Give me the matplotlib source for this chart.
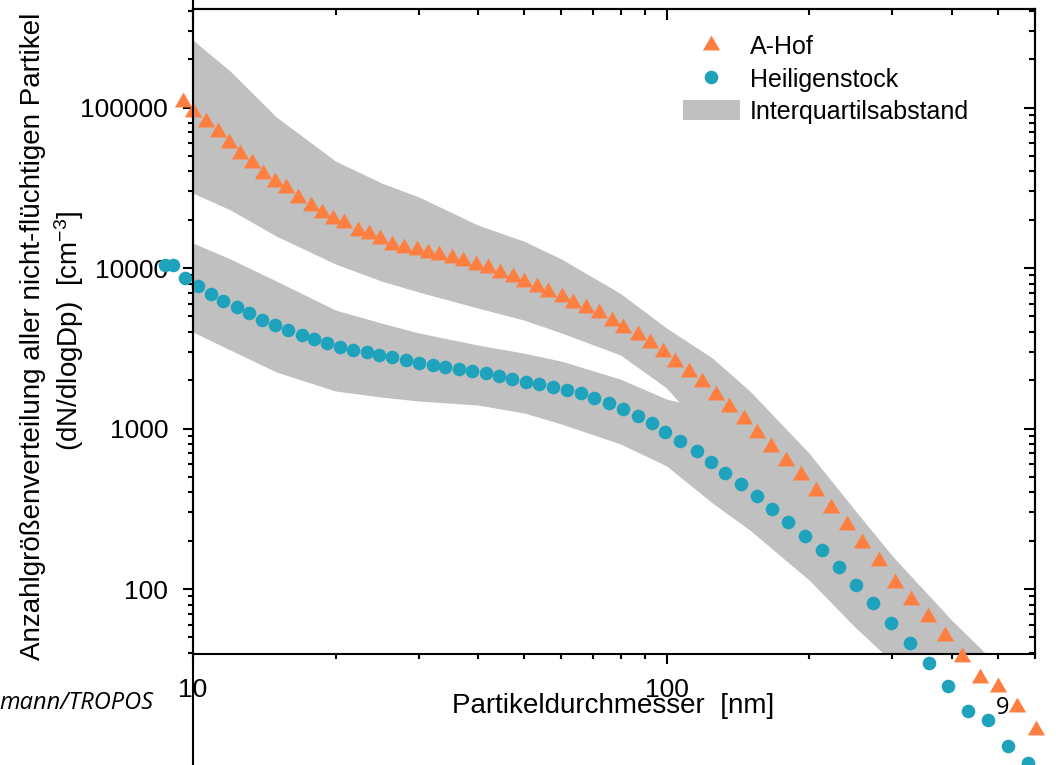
import matplotlib
matplotlib.use("Agg")
import matplotlib.pyplot as plt
from matplotlib.lines import Line2D
from matplotlib.patches import Patch
from matplotlib.ticker import FuncFormatter, NullFormatter

plt.rcParams['font.family'] = ['Liberation Sans', 'DejaVu Sans']
plt.rcParams['font.size'] = 18
plt.rcParams['mathtext.default'] = 'regular'

# particle diameter [nm] and number size distribution dN/dlogDp [cm^-3]
ahof_d = [9.53, 10.0, 10.65, 11.29, 11.91, 12.56, 13.32, 14.05, 14.89, 15.71,
          16.65, 17.74, 18.72, 19.74, 20.83, 22.29, 23.51, 24.80, 26.29, 27.87,
          29.70, 31.31, 33.04, 35.19, 37.12, 39.54, 41.92, 44.44, 47.32, 49.92,
          53.18, 56.10, 60.04, 63.34, 67.47, 71.87, 76.56, 80.76, 86.86, 92.07,
          98.08, 104.4, 111.3, 119.1, 127.5, 135.8, 145.4, 155.6, 166.5, 179.1,
          192.7, 207.3, 222.9, 240.9, 259.1, 281.5, 304.1, 328.8, 357.2, 387.9,
          421.3, 459.7, 501.7, 550.3, 603.4]
ahof_n = [108200, 93750, 81250, 70400, 60100, 51300, 45100, 38500, 34400, 31500,
          27300, 24300, 22000, 20200, 19100, 17000, 16300, 15200, 13900, 13300,
          12900, 12400, 12000, 11500, 11050, 10440, 10000, 9300, 8790, 8180,
          7620, 7080, 6600, 6050, 5630, 5250, 4670, 4230, 3830, 3410,
          3000, 2600, 2250, 1950, 1617, 1361, 1146, 938, 767, 627,
          513, 408, 320, 250.5, 193.5, 149.4, 109, 85.4, 66.9, 51.0,
          37.7, 27.9, 24.5, 18.4, 13.2]

heil_d = [8.73, 9.07, 9.62, 10.24, 10.91, 11.57, 12.38, 13.13, 13.98, 14.89,
          15.86, 16.98, 18.0, 19.17, 20.42, 21.76, 23.28, 24.68, 26.29, 28.14,
          29.99, 32.09, 34.01, 36.41, 38.79, 41.51, 44.21, 47.10, 50.41, 53.70,
          57.47, 61.52, 65.86, 70.15, 75.43, 80.76, 86.86, 92.98, 99.5, 107.0,
          115.7, 124.4, 133.2, 143.9, 154.9, 167.4, 180.9, 196.5, 213.4, 231.7,
          251.7, 273.4, 298.4, 327.2, 358.8, 393.6, 433.6, 477.8, 526.6, 580.2]
heil_n = [10440, 10440, 8660, 7720, 6890, 6230, 5710, 5250, 4740, 4420,
          4110, 3830, 3610, 3410, 3220, 3080, 3000, 2870, 2790, 2670,
          2560, 2490, 2420, 2350, 2280, 2220, 2120, 2030, 1950, 1890,
          1810, 1740, 1660, 1550, 1440, 1320, 1200, 1080, 951, 836,
          724, 619, 528, 451, 379.6, 315, 261.5, 213.9, 175, 137,
          105.9, 81.8, 61.4, 46.1, 34.6, 24.9, 17.4, 15.3, 10.5, 8.24]

# interquartile ranges
band_d = [10, 12, 15, 20, 25, 30, 40, 50, 60, 80, 100, 125, 150, 200, 250, 300, 400, 500, 600]
ahof_q1 = [29300, 23000, 15800, 10590, 8300, 7080, 5630, 4740, 3940, 2870,
           1790, 848, 551, 233, 113.8, 64.1, 23.5, 11.5, 6.45]
ahof_q3 = [263000, 168000, 87300, 46400, 33900, 27700, 18500, 14700, 11380, 6930,
           4230, 2750, 1713, 703, 310, 160.6, 64.1, 33.6, 20.4]
heil_q1 = [3990, 3080, 2250, 1713, 1571, 1484, 1401, 1250, 1067, 801,
           585, 343.6, 233, 113.8, 58, 35.1, 15.3, 7.45, 4.2]
heil_q3 = [14300, 11380, 8300, 5470, 4540, 3940, 3310, 2950, 2630, 2030,
           1527, 1304, 848, 358, 151.6, 85.4, 36.1, 15.3, 8.6]

orange = '#ff7f41'
teal = '#1fa2bc'
grey = '#c0c0c0'

W, H = 1056, 765
fig = plt.figure(figsize=(W / 100, H / 100), dpi=100)
x0 = 193 / W
ax = fig.add_axes([x0, 1 - 654 / H, (1035 - 193) / W, (654 - 9) / H])

ax.fill_between(band_d, ahof_q1, ahof_q3, color=grey, lw=0, zorder=1)
ax.fill_between(band_d, heil_q1, heil_q3, color=grey, lw=0, zorder=1)

tri = [(-1, -0.577), (1, -0.577), (0, 1.155)]
l1, = ax.plot(ahof_d, ahof_n, ls='none', marker=tri, ms=14.3, mew=0,
              color=orange, clip_on=False, zorder=5)
l2, = ax.plot(heil_d, heil_n, ls='none', marker='o', ms=9.8, mew=0,
              color=teal, clip_on=False, zorder=5)

ax.set_xscale('log')
ax.set_yscale('log')
ax.set_xlim(10, 600)
ax.set_ylim(39.4, 411000)

fmt = FuncFormatter(lambda v, p: f'{v:g}')
ax.xaxis.set_major_formatter(fmt)
ax.yaxis.set_major_formatter(fmt)
ax.xaxis.set_minor_formatter(NullFormatter())
ax.yaxis.set_minor_formatter(NullFormatter())

for s in ax.spines.values():
    s.set_linewidth(1.5)
ax.tick_params(which='major', direction='out', length=7.5, width=1.5,
               labelsize=19, top=False, right=False)
ax.tick_params(which='minor', direction='out', length=3.8, width=1.5,
               top=False, right=False)
ax.tick_params(axis='x', which='major', pad=10)
ax.tick_params(axis='y', which='major', pad=10.5)

# mirrored ticks pointing inward
sx = ax.secondary_xaxis('top')
sy = ax.secondary_yaxis('right')
for sa, axis in ((sx, sx.xaxis), (sy, sy.yaxis)):
    axis.set_major_formatter(NullFormatter())
    axis.set_minor_formatter(NullFormatter())
    sa.tick_params(which='major', direction='in', length=8, width=1.5)
    sa.tick_params(which='minor', direction='in', length=4.5, width=1.5)
    for s in sa.spines.values():
        s.set_linewidth(1.5)

# left axis line runs over the whole height
fig.add_artist(Line2D([x0, x0], [0, 1], transform=fig.transFigure,
                      color='black', lw=1.5))

handles = [l1, l2, Patch(facecolor=grey, edgecolor='none')]
ax.legend(handles, ['A-Hof', 'Heiligenstock', 'Interquartilsabstand'],
          loc='upper left', bbox_to_anchor=(670 / W, 1 - 23 / H),
          bbox_transform=fig.transFigure, frameon=False, borderpad=0,
          handlelength=2.3, handleheight=0.85, handletextpad=0.4,
          labelspacing=0.32, fontsize=18)

yc = 1 - 336 / H
fig.text(33 / W, yc, 'Anzahlgrößenverteilung aller nicht-flüchtigen Partikel',
         rotation=90, ha='center', va='center', fontsize=20)
fig.text(69 / W, 1 - 331 / H, '(dN/dlogDp)  [cm$^{-3}$]',
         rotation=90, ha='center', va='center', fontsize=20)
fig.text(613 / W, 1 - 706 / H, 'Partikeldurchmesser  [nm]',
         ha='center', va='center', fontsize=20)

fig.text(153 / W, 1 - 703 / H, 'mann/TROPOS', ha='right', va='center',
         fontsize=17, fontstyle='italic', family=['Open Sans', 'DejaVu Sans'])
fig.text(1003 / W, 1 - 708 / H, '9', ha='center', va='center',
         fontsize=17, family=['Open Sans', 'DejaVu Sans'], zorder=0)

fig.savefig('out.png', dpi=100)
